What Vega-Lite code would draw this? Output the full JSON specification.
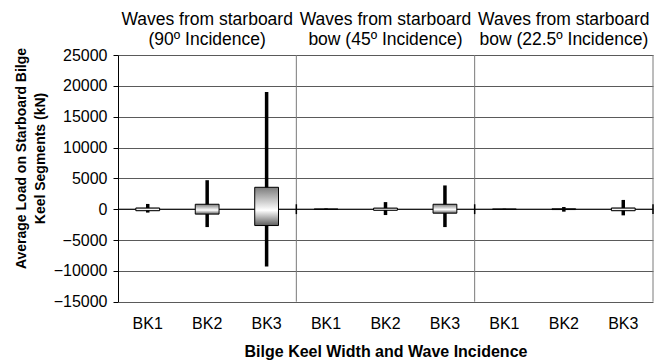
{
  "$schema": "https://vega.github.io/schema/vega-lite/v6.json",
  "autosize": "none",
  "width": 535,
  "height": 246.7,
  "padding": {"left": 118, "top": 55, "right": 15, "bottom": 61.3},
  "background": "white",
  "config": {
    "view": {"stroke": null},
    "font": "Liberation Sans",
    "axis": {"labelFont": "Liberation Sans", "titleFont": "Liberation Sans", "labelColor": "#000", "titleColor": "#000"},
    "axisX": {"labelAngle": 0, "labelFontSize": 16, "labelPadding": 14, "ticks": false, "domain": false, "grid": false,
              "titleFontSize": 16, "titleFontWeight": "bold", "titlePadding": 12},
    "axisY": {"labelFontSize": 16, "labelPadding": 6, "tickSize": 5, "tickColor": "#000", "labelOverlap": false,
              "domainColor": "#000", "grid": true, "gridColor": "#5a5a5a", "gridWidth": 1,
              "titleFontSize": 14, "titleFontWeight": "bold", "titleLineHeight": 19,
              "titleX": -90, "titleY": 103, "titleAngle": -90, "titleAlign": "center", "titleBaseline": "bottom"}
  },
  "datasets": {
    "loads": [
      {"slot": "90|BK1", "bk": "BK1", "boxTop": 200, "boxBottom": -250, "high": 850, "low": -550},
      {"slot": "90|BK2", "bk": "BK2", "boxTop": 800, "boxBottom": -800, "high": 4700, "low": -2900},
      {"slot": "90|BK3", "bk": "BK3", "boxTop": 3550, "boxBottom": -2650, "high": 19000, "low": -9300},
      {"slot": "45|BK1", "bk": "BK1", "boxTop": 30, "boxBottom": -30, "high": 120, "low": -120},
      {"slot": "45|BK2", "bk": "BK2", "boxTop": 180, "boxBottom": -180, "high": 1150, "low": -950},
      {"slot": "45|BK3", "bk": "BK3", "boxTop": 800, "boxBottom": -650, "high": 3850, "low": -2900},
      {"slot": "22.5|BK1", "bk": "BK1", "boxTop": 20, "boxBottom": -20, "high": 80, "low": -80},
      {"slot": "22.5|BK2", "bk": "BK2", "boxTop": 60, "boxBottom": -60, "high": 350, "low": -400},
      {"slot": "22.5|BK3", "bk": "BK3", "boxTop": 200, "boxBottom": -250, "high": 1500, "low": -1000}
    ],
    "groups": [
      {"slot": "90|BK2", "last": "90|BK3", "label": "Waves from starboard\n(90º Incidence)"},
      {"slot": "45|BK2", "last": "45|BK3", "label": "Waves from starboard\nbow (45º Incidence)"},
      {"slot": "22.5|BK2", "last": "22.5|BK3", "label": "Waves from starboard\nbow (22.5º Incidence)"}
    ]
  },
  "resolve": {"scale": {"x": "shared", "y": "shared"}},
  "layer": [
    {
      "data": {"name": "groups"},
      "mark": {"type": "rule", "color": "#7a7a7a", "strokeWidth": 1},
      "encoding": {
        "x": {"field": "last", "type": "nominal", "bandPosition": 1,
              "scale": {"domain": ["90|BK1", "90|BK2", "90|BK3", "45|BK1", "45|BK2", "45|BK3", "22.5|BK1", "22.5|BK2", "22.5|BK3"], "paddingInner": 0, "paddingOuter": 0},
              "axis": {"title": "Bilge Keel Width and Wave Incidence", "labelExpr": "split(datum.label, '|')[1]"}},
        "y": {"datum": -15000, "type": "quantitative",
              "scale": {"domain": [-15000, 25000], "nice": false},
              "axis": {"values": [-15000, -10000, -5000, 0, 5000, 10000, 15000, 20000, 25000], "format": "d",
                       "title": ["Average Load on Starboard Bilge", "Keel Segments (kN)"]}},
        "y2": {"datum": 25000}
      }
    },
    {
      "data": {"values": [{"level": 0}]},
      "mark": {"type": "rule", "color": "#000", "strokeWidth": 1},
      "encoding": {
        "y": {"field": "level", "type": "quantitative",
              "axis": {"values": [-15000, -10000, -5000, 0, 5000, 10000, 15000, 20000, 25000], "format": "d",
                       "title": ["Average Load on Starboard Bilge", "Keel Segments (kN)"]}}
      }
    },
    {
      "data": {"name": "groups"},
      "mark": {"type": "rule", "color": "#000", "strokeWidth": 1.5},
      "encoding": {
        "x": {"field": "last", "type": "nominal", "bandPosition": 1,
              "axis": {"title": "Bilge Keel Width and Wave Incidence", "labelExpr": "split(datum.label, '|')[1]"}},
        "y": {"datum": -800, "type": "quantitative",
              "axis": {"values": [-15000, -10000, -5000, 0, 5000, 10000, 15000, 20000, 25000], "format": "d",
                       "title": ["Average Load on Starboard Bilge", "Keel Segments (kN)"]}},
        "y2": {"datum": 800}
      }
    },
    {
      "data": {"name": "loads"},
      "mark": {"type": "rule", "color": "#000", "strokeWidth": 3.5},
      "encoding": {
        "x": {"field": "slot", "type": "nominal",
              "axis": {"title": "Bilge Keel Width and Wave Incidence", "labelExpr": "split(datum.label, '|')[1]"}},
        "y": {"field": "low", "type": "quantitative",
              "axis": {"values": [-15000, -10000, -5000, 0, 5000, 10000, 15000, 20000, 25000], "format": "d",
                       "title": ["Average Load on Starboard Bilge", "Keel Segments (kN)"]}},
        "y2": {"field": "high"}
      }
    },
    {
      "data": {"name": "loads"},
      "mark": {
        "type": "bar", "width": {"band": 0.4}, "stroke": "#000", "strokeWidth": 1,
        "fill": {"gradient": "linear", "x1": 0, "y1": 0, "x2": 0, "y2": 1,
                 "stops": [{"offset": 0, "color": "#7c7c7c"}, {"offset": 0.6, "color": "#ffffff"}, {"offset": 1, "color": "#5c5c5c"}]}
      },
      "encoding": {
        "x": {"field": "slot", "type": "nominal",
              "axis": {"title": "Bilge Keel Width and Wave Incidence", "labelExpr": "split(datum.label, '|')[1]"}},
        "y": {"field": "boxTop", "type": "quantitative",
              "axis": {"values": [-15000, -10000, -5000, 0, 5000, 10000, 15000, 20000, 25000], "format": "d",
                       "title": ["Average Load on Starboard Bilge", "Keel Segments (kN)"]}},
        "y2": {"field": "boxBottom"}
      }
    },
    {
      "data": {"name": "groups"},
      "mark": {"type": "text", "font": "Liberation Sans", "fontSize": 17.5, "lineBreak": "\n", "lineHeight": 20,
               "baseline": "alphabetic", "align": "center", "dy": -30, "color": "#000"},
      "encoding": {
        "x": {"field": "slot", "type": "nominal",
              "axis": {"title": "Bilge Keel Width and Wave Incidence", "labelExpr": "split(datum.label, '|')[1]"}},
        "y": {"datum": 25000, "type": "quantitative",
              "axis": {"values": [-15000, -10000, -5000, 0, 5000, 10000, 15000, 20000, 25000], "format": "d",
                       "title": ["Average Load on Starboard Bilge", "Keel Segments (kN)"]}},
        "text": {"field": "label"}
      }
    }
  ]
}
